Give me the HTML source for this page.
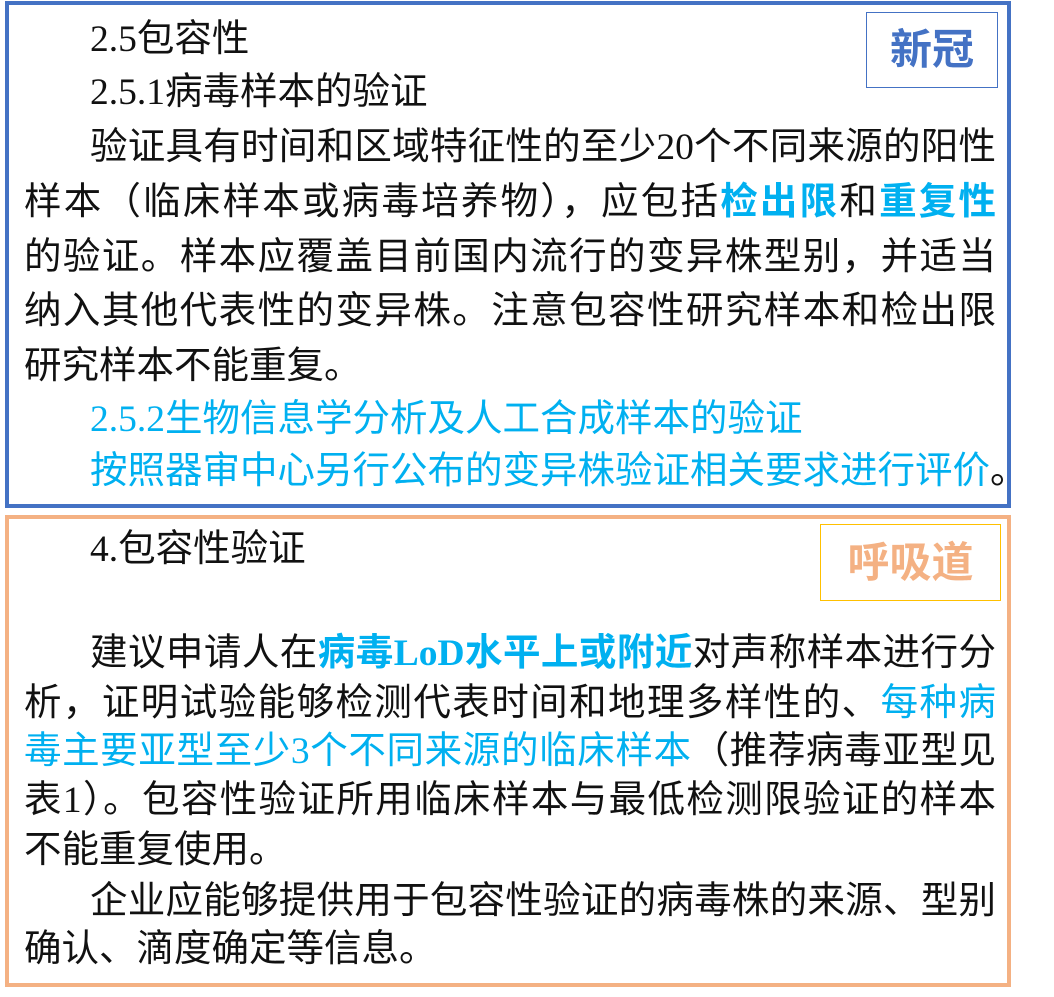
<!DOCTYPE html>
<html><head><meta charset="utf-8"><style>
body{margin:0;width:1054px;height:997px;background:#fff;position:relative;overflow:hidden;font-family:"Liberation Serif","Noto Sans CJK SC",sans-serif;color:#111;}
.box{position:absolute;left:5px;width:1006px;box-sizing:border-box;}
#b1{top:1px;height:507px;border:4px solid #4472c4;}
#b2{top:515px;height:472px;border:4px solid #f4b183;}
.l{position:absolute;left:24px;width:972px;font-size:37.5px;white-space:nowrap;line-height:40px;}
.j{text-align:justify;text-align-last:justify;}
.i{padding-left:66px;box-sizing:border-box;}
.c{color:#00b0f0}
.cb{color:#00b0f0;font-weight:bold}
.tag{position:absolute;box-sizing:border-box;text-align:center;font-weight:bold;font-family:"Liberation Sans","Noto Sans CJK SC",sans-serif;font-size:42px;}
</style></head><body>
<div class="box" id="b1"></div>
<div class="box" id="b2"></div>
<div class="tag" style="left:866px;top:12px;width:132px;height:76px;line-height:74px;border:1.5px solid #4472c4;color:#4472c4;">新冠</div>
<div class="tag" style="left:820px;top:524px;width:181px;height:77px;line-height:75px;border:1.5px solid #ffc000;color:#f4b183;">呼吸道</div>

<div class="l i" style="top:20px">2.5包容性</div>
<div class="l i" style="top:73px">2.5.1病毒样本的验证</div>
<div class="l i j" style="top:128px">验证具有时间和区域特征性的至少20个不同来源的阳性</div>
<div class="l j" style="top:183px">样本（临床样本或病毒培养物），应包括<span class="cb">检出限</span>和<span class="cb">重复性</span></div>
<div class="l j" style="top:238px">的验证。样本应覆盖目前国内流行的变异株型别，并适当</div>
<div class="l j" style="top:292px">纳入其他代表性的变异株。注意包容性研究样本和检出限</div>
<div class="l" style="top:347px">研究样本不能重复。</div>
<div class="l i c" style="top:400px">2.5.2生物信息学分析及人工合成样本的验证</div>
<div class="l i c" style="top:452px;width:1000px">按照器审中心另行公布的变异株验证相关要求进行评价<span style="color:#111">。</span></div>

<div class="l i" style="top:530px">4.包容性验证</div>
<div class="l i j" style="top:634px">建议申请人在<span class="cb">病毒LoD水平上或附近</span>对声称样本进行分</div>
<div class="l j" style="top:684px">析，证明试验能够检测代表时间和地理多样性的、<span class="c">每种病</span></div>
<div class="l j" style="top:732px"><span class="c">毒主要亚型至少3个不同来源的临床样本</span>（推荐病毒亚型见</div>
<div class="l j" style="top:781px">表1）。包容性验证所用临床样本与最低检测限验证的样本</div>
<div class="l" style="top:831px">不能重复使用。</div>
<div class="l i j" style="top:882px">企业应能够提供用于包容性验证的病毒株的来源、型别</div>
<div class="l" style="top:930px">确认、滴度确定等信息。</div>
</body></html>
